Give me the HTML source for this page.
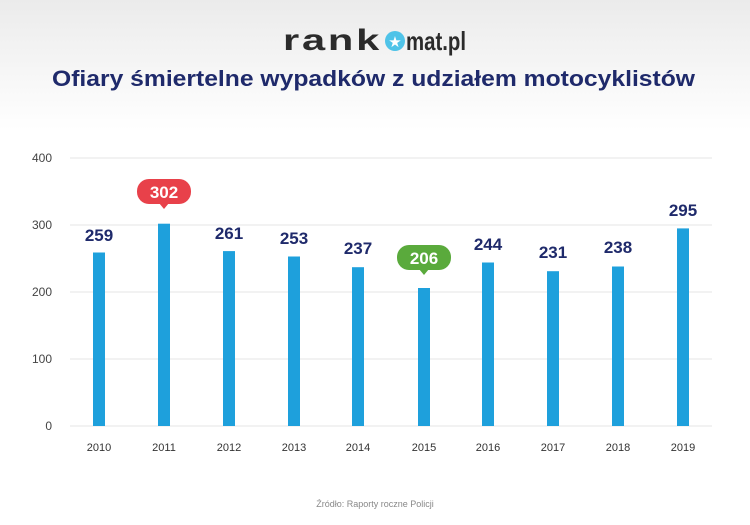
<!DOCTYPE html>
<html><head><meta charset="utf-8"><style>
body{margin:0;width:750px;height:520px;overflow:hidden;font-family:"Liberation Sans",sans-serif;background:#fff}
</style></head><body>
<svg width="750" height="520" xmlns="http://www.w3.org/2000/svg">
<defs><linearGradient id="g" x1="0" y1="0" x2="0" y2="1"><stop offset="0" stop-color="#ebebeb"/><stop offset="1" stop-color="#ffffff"/></linearGradient></defs>
<rect width="750" height="520" fill="#fff"/>
<rect width="750" height="130" fill="url(#g)"/>
<text x="283" y="50" font-size="30" font-weight="bold" fill="#2b2b2b" letter-spacing="2" textLength="99" lengthAdjust="spacingAndGlyphs">rank</text>
<circle cx="395" cy="41" r="10" fill="#4fc3e8"/>
<text x="395" y="47" font-size="15" fill="#fff" text-anchor="middle">★</text>
<text x="406" y="50" font-size="26" font-weight="bold" fill="#2b2b2b" textLength="60" lengthAdjust="spacingAndGlyphs">mat.pl</text>
<text x="52" y="86" font-size="22" font-weight="bold" fill="#1f2a6b" textLength="643" lengthAdjust="spacingAndGlyphs">Ofiary śmiertelne wypadków z udziałem motocyklistów</text>
<g stroke="#e6e6e6" stroke-width="1">
<line x1="70" y1="158" x2="712" y2="158"/><line x1="70" y1="225" x2="712" y2="225"/>
<line x1="70" y1="292" x2="712" y2="292"/><line x1="70" y1="359" x2="712" y2="359"/>
<line x1="70" y1="426" x2="712" y2="426"/></g>
<g font-size="12" fill="#444" text-anchor="end">
<text x="52" y="162">400</text><text x="52" y="229">300</text><text x="52" y="296">200</text><text x="52" y="363">100</text><text x="52" y="430">0</text></g>
<g fill="#1ea0dc">
<rect x="93" y="252.5" width="12" height="173.5"/>
<rect x="158" y="223.7" width="12" height="202.3"/>
<rect x="223" y="251.1" width="12" height="174.9"/>
<rect x="288" y="256.5" width="12" height="169.5"/>
<rect x="352" y="267.2" width="12" height="158.8"/>
<rect x="418" y="288" width="12" height="138"/>
<rect x="482" y="262.5" width="12" height="163.5"/>
<rect x="547" y="271.2" width="12" height="154.8"/>
<rect x="612" y="266.5" width="12" height="159.5"/>
<rect x="677" y="228.4" width="12" height="197.6"/></g>
<rect x="137" y="179" width="54" height="25" rx="12" fill="#e8414a"/>
<path d="M159 203 L164 209 L169 203Z" fill="#e8414a"/>
<rect x="397" y="245" width="54" height="25" rx="12" fill="#5aaa3c"/>
<path d="M419 269 L424 275 L429 269Z" fill="#5aaa3c"/>
<g font-size="17" font-weight="bold" fill="#1f2a6b" text-anchor="middle">
<text x="99" y="241">259</text>
<text x="164" y="198" fill="#fff">302</text>
<text x="229" y="239">261</text>
<text x="294" y="244">253</text>
<text x="358" y="254">237</text>
<text x="424" y="264" fill="#fff">206</text>
<text x="488" y="250">244</text>
<text x="553" y="258">231</text>
<text x="618" y="253">238</text>
<text x="683" y="216">295</text></g>
<g font-size="11" fill="#333" text-anchor="middle">
<text x="99" y="451">2010</text><text x="164" y="451">2011</text><text x="229" y="451">2012</text><text x="294" y="451">2013</text><text x="358" y="451">2014</text><text x="424" y="451">2015</text><text x="488" y="451">2016</text><text x="553" y="451">2017</text><text x="618" y="451">2018</text><text x="683" y="451">2019</text></g>
<text x="375" y="507" font-size="9" fill="#888" text-anchor="middle">Źródło: Raporty roczne Policji</text>
</svg>
</body></html>
